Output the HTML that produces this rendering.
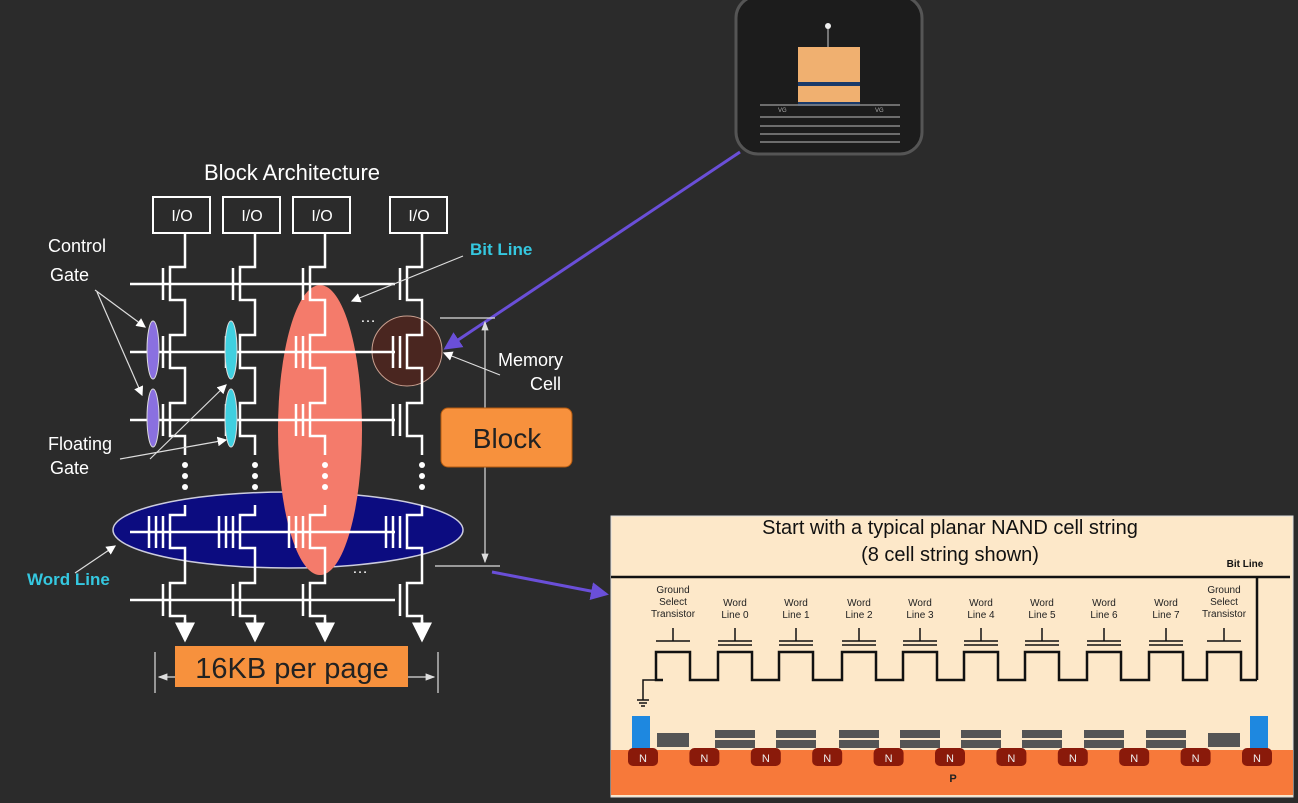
<!DOCTYPE html>
<html><head><meta charset="utf-8"><style>
html,body{margin:0;padding:0;background:#2b2b2b;}
svg{display:block;font-family:"Liberation Sans",sans-serif;}
</style></head><body>
<svg id="s" width="1298" height="803" viewBox="0 0 1298 803">
<defs>
<marker id="ah" markerWidth="8" markerHeight="8" refX="7" refY="4" orient="auto"><path d="M0,0 L8,4 L0,8 z" fill="#fff"/></marker>
<marker id="ad" markerWidth="8" markerHeight="8" refX="7" refY="4" orient="auto-start-reverse"><path d="M0,1 L8,4 L0,7 z" fill="#ddd"/></marker>
<marker id="ap" markerWidth="6" markerHeight="6" refX="5" refY="3" orient="auto"><path d="M0,0 L6,3 L0,6 z" fill="#6a4fd8"/></marker>
</defs>
<rect width="1298" height="803" fill="#2b2b2b"/>
<g>
<rect x="736" y="-4" width="186" height="158" rx="22" fill="#1c1c1c" stroke="#555" stroke-width="3"/>
<rect x="798" y="47" width="62" height="35" fill="#f0b070"/>
<rect x="798" y="82" width="62" height="4" fill="#1a3a6a"/>
<rect x="798" y="86" width="62" height="16" fill="#f0b070"/>
<rect x="798" y="102" width="62" height="4" fill="#1a3a6a"/>
<line x1="828" y1="27" x2="828" y2="47" stroke="#ccc"/><circle cx="828" cy="26" r="3" fill="#eee"/>
<g stroke="#888" stroke-width="1.5"><line x1="760" y1="105" x2="900" y2="105"/><line x1="760" y1="117" x2="900" y2="117"/><line x1="760" y1="126" x2="900" y2="126"/><line x1="760" y1="134" x2="900" y2="134"/><line x1="760" y1="142" x2="900" y2="142"/></g>
<text x="778" y="112" fill="#aaa" font-size="6">VG</text><text x="875" y="112" fill="#aaa" font-size="6">VG</text>
</g>
<line x1="740" y1="152" x2="446" y2="348" stroke="#6a4fd8" stroke-width="3" marker-end="url(#ap)"/>
<line x1="492" y1="572" x2="606" y2="594" stroke="#6a4fd8" stroke-width="3" marker-end="url(#ap)"/>

<text x="292" y="180" fill="#fff" font-size="22" text-anchor="middle">Block Architecture</text>
<g id="ioboxes"></g>
<ellipse cx="288" cy="530" rx="175" ry="38" fill="#0c0c80" stroke="#ccd" stroke-width="1.5"/>
<ellipse cx="320" cy="430" rx="42" ry="145" fill="#f47b6b"/>
<circle cx="407" cy="351" r="35" fill="#4a2620" stroke="#c9a090" stroke-width="1"/>
<g id="grid" stroke="#fff" stroke-width="2.5" fill="none"></g>
<g id="fg"></g>
<text x="360" y="322" fill="#fff" font-size="16">…</text>
<text x="352" y="573" fill="#fff" font-size="16">…</text>

<g fill="#fff" font-size="18">
<text x="48" y="252">Control</text><text x="50" y="281">Gate</text>
<text x="48" y="450">Floating</text><text x="50" y="474">Gate</text>
<text x="498" y="366">Memory</text><text x="530" y="390">Cell</text>
</g>
<text x="470" y="255" fill="#35c8e0" font-size="17" font-weight="bold">Bit Line</text>
<text x="27" y="585" fill="#35c8e0" font-size="17" font-weight="bold">Word Line</text>
<g stroke="#ddd" stroke-width="1.2" marker-end="url(#ah)">
<line x1="95" y1="290" x2="145" y2="327"/><line x1="97" y1="292" x2="142" y2="395"/>
<line x1="150" y1="459" x2="226" y2="385"/><line x1="120" y1="459" x2="226" y2="440"/>
<line x1="463" y1="256" x2="352" y2="301"/><line x1="500" y1="375" x2="444" y2="353"/>
<line x1="75" y1="573" x2="115" y2="546"/>
</g>
<g stroke="#ddd" stroke-width="1.2">
<line x1="440" y1="318" x2="495" y2="318"/><line x1="435" y1="566" x2="500" y2="566"/>
<line x1="485" y1="322" x2="485" y2="562" marker-start="url(#ad)" marker-end="url(#ad)"/>
</g>
<rect x="441" y="408" width="131" height="59" rx="7" fill="#f7913d" stroke="#b35a10"/>
<text x="507" y="448" font-size="28" fill="#222" text-anchor="middle">Block</text>
<g stroke="#ddd" stroke-width="1.2">
<line x1="155" y1="652" x2="155" y2="693"/><line x1="438" y1="652" x2="438" y2="693"/>
<line x1="159" y1="677" x2="434" y2="677" marker-start="url(#ad)" marker-end="url(#ad)"/>
</g>
<rect x="175" y="646" width="233" height="41" fill="#f7913d"/>
<text x="292" y="678" font-size="29" fill="#222" text-anchor="middle">16KB per page</text>

<g>
<rect x="611" y="516" width="682" height="281" fill="#fde8c9" stroke="#ddd"/>
<text x="950" y="534" font-size="20" text-anchor="middle" fill="#111">Start with a typical planar NAND cell string</text>
<text x="950" y="561" font-size="20" text-anchor="middle" fill="#111">(8 cell string shown)</text>
<text x="1245" y="567" font-size="10" font-weight="bold" text-anchor="middle" fill="#111">Bit Line</text>
<line x1="611" y1="577" x2="1290" y2="577" stroke="#111" stroke-width="2.5"/>
<line x1="1257" y1="577" x2="1257" y2="680" stroke="#111" stroke-width="2.5"/>
<rect x="611" y="750" width="682" height="45" fill="#f7793a"/>
<text x="953" y="782" font-size="11" font-weight="bold" text-anchor="middle" fill="#222">P</text>
<rect x="632" y="716" width="18" height="34" fill="#1e88e0"/><rect x="1250" y="716" width="18" height="34" fill="#1e88e0"/>
<g stroke="#111" stroke-width="1.5" fill="none"><path d="M663,680 L643,680 L643,700"/><line x1="637" y1="700" x2="649" y2="700"/><line x1="639" y1="703" x2="647" y2="703"/><line x1="641" y1="706" x2="645" y2="706"/></g>
<g id="rp"></g>
</g>
</svg>
<script>
const NS="http://www.w3.org/2000/svg";
function mk(p,t,a){const e=document.createElementNS(NS,t);for(const k in a)e.setAttribute(k,a[k]);p.appendChild(e);return e;}
const cols=[185,255,325,422];
const rows=[284,352,420,532,600];
const io=document.getElementById('ioboxes'),g=document.getElementById('grid'),fg=document.getElementById('fg');
cols.forEach((c,i)=>{
 const b=mk(io,'rect',{x:c-32,y:197,width:57,height:36,fill:'none',stroke:'#fff','stroke-width':2});
 
 
 const t=mk(io,'text',{x:c-3,y:221,fill:'#fff','font-size':16,'text-anchor':'middle'});t.textContent='I/O';
 let d=`M${c},233`;
 rows.forEach((y,r)=>{d+=` L${c},${y-17} L${c-15},${y-17} L${c-15},${y+16} L${c},${y+16}`;if(r==2)d+=` L${c},455 M${c},505`;});
 d+=` L${c},632`;
 const p=mk(g,'path',{d:d});
 
 
 mk(g,'line',{x1:c,y1:620,x2:c,y2:640,'marker-end':'url(#ah)'});
 [465,476,487].forEach(y=>mk(fg,'circle',{cx:c,cy:y,r:3,fill:'#fff'}));
 rows.forEach((y,r)=>{
  const dbl=(r>=1&&r<=3);
  mk(g,'line',{x1:c-22,y1:y-16,x2:c-22,y2:y+16});
  if(dbl)mk(g,'line',{x1:c-29,y1:y-16,x2:c-29,y2:y+16});
  if(r==3)mk(g,'line',{x1:c-36,y1:y-16,x2:c-36,y2:y+16});
 });
});
rows.forEach((y,r)=>{const l=mk(g,'line',{x1:130,y1:y,x2:395,y2:y});});
[[153,'#8a70e0'],[231,'#40d0e0']].forEach(([x,col])=>[350,418].forEach(y=>{const e=mk(fg,'ellipse',{cx:x,cy:y,rx:6,ry:29,fill:col,stroke:'#ddd','stroke-width':1});}));
const rp=document.getElementById('rp');
const labels=[["Ground","Select","Transistor"],["Word","Line 0"],["Word","Line 1"],["Word","Line 2"],["Word","Line 3"],["Word","Line 4"],["Word","Line 5"],["Word","Line 6"],["Word","Line 7"],["Ground","Select","Transistor"]];
const gx=[673,735,796,859,920,981,1042,1104,1166,1224];
let d="M663,680";
gx.forEach((x,i)=>{
 const L=labels[i];const y0=L.length==3?593:606;
 L.forEach((s,j)=>{const t=mk(rp,'text',{x:x,y:y0+j*12,'font-size':10,'text-anchor':'middle',fill:'#222'});t.textContent=s;});
 mk(rp,'line',{x1:x,y1:628,x2:x,y2:641,stroke:'#111','stroke-width':1.5});
 mk(rp,'line',{x1:x-17,y1:641,x2:x+17,y2:641,stroke:'#111','stroke-width':1.5});
 const sel=(i==0||i==9);
 if(!sel)mk(rp,'line',{x1:x-17,y1:645,x2:x+17,y2:645,stroke:'#111','stroke-width':1.5});
 d+=` L${x-17},680 L${x-17},652 L${x+17},652 L${x+17},680`;
 if(sel){mk(rp,'rect',{x:x-16,y:733,width:32,height:14,fill:'#555'});}
 else{mk(rp,'rect',{x:x-20,y:730,width:40,height:8,fill:'#555'});mk(rp,'rect',{x:x-20,y:740,width:40,height:8,fill:'#555'});}
});
d+=" L1257,680";
mk(rp,'path',{d:d,stroke:'#111','stroke-width':2.5,fill:'none'});
for(let i=0;i<11;i++){const x=643+i*61.4;
 const n=mk(rp,'rect',{x:x-15,y:748,width:30,height:18,rx:5,fill:'#8a1a0a'});
 const t=mk(rp,'text',{x:x,y:762,'font-size':11,'text-anchor':'middle',fill:'#eee'});t.textContent='N';}
</script>
</body></html>
